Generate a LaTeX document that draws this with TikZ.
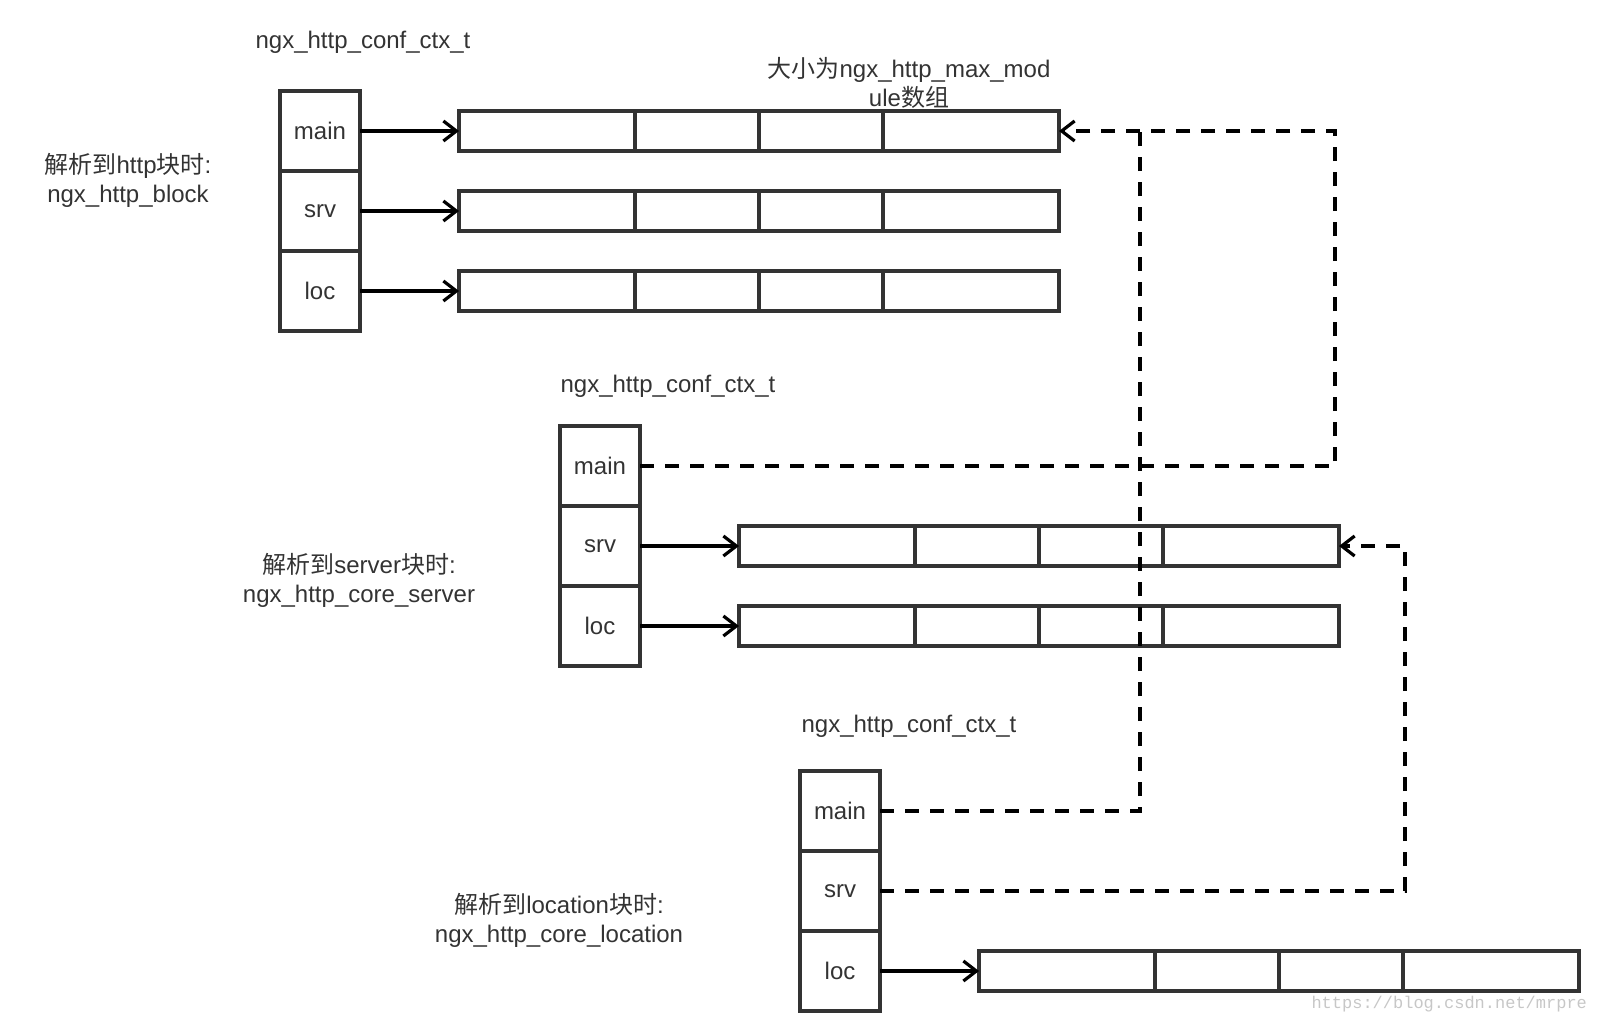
\documentclass[tikz,border=0pt]{standalone}
\usepackage{fontspec}
\setmainfont{Liberation Sans}
\newfontfamily\cjk{Noto Sans CJK SC}
\newfontfamily\wmfont{Liberation Mono}
\usetikzlibrary{arrows.meta,positioning}

\tikzset{
  field/.style={draw=black!80, line width=1.75pt, minimum width=40pt, minimum height=40pt,
    inner sep=0pt, outer sep=0pt, font=\fontsize{12}{14}\selectfont, text=black!80},
  cell/.style={draw=black!80, line width=1.75pt, minimum height=20pt, inner sep=0pt, outer sep=0pt},
  wide/.style={cell, minimum width=88pt},
  narrow/.style={cell, minimum width=62pt},
  ptr/.style={-{Straight Barb[length=6.5pt,width=10pt,line width=1.6pt]}, line width=1.6pt, draw=black},
  dline/.style={line width=1.6pt, draw=black, dash pattern=on 7pt off 5.5pt},
  dptr/.style={ptr, dash pattern=on 7pt off 5.5pt},
  lbl/.style={font=\fontsize{12}{14.5}\selectfont, text=black!80, align=center}
}

\begin{document}
\begin{tikzpicture}[x=0.5pt,y=-0.5pt]
\useasboundingbox (0,0) rectangle (1600,1022);

%% http block: ngx_http_conf_ctx_t
\node[lbl] (htitle) at (363,42) {ngx\_http\_conf\_ctx\_t};
\node[field] (hmain) at (320,131) {main};
\node[field, below=0pt of hmain] (hsrv) {srv};
\node[field, below=0pt of hsrv] (hloc) {loc};
\node[lbl] (hlbl) at (128,180) {{\cjk 解析到}http{\cjk 块时}:\\ngx\_http\_block};
\node[lbl] (size) at (909,83) {{\cjk 大小为}ngx\_http\_max\_mod\\ule{\cjk 数组}};

%% http block arrays
\node[wide, anchor=west] (ha1) at (459,131) {}; \node[narrow, right=0pt of ha1] (ha2) {}; \node[narrow, right=0pt of ha2] (ha3) {}; \node[wide, right=0pt of ha3] (ha4) {};
\node[wide, anchor=west] (hb1) at (459,211) {}; \node[narrow, right=0pt of hb1] (hb2) {}; \node[narrow, right=0pt of hb2] (hb3) {}; \node[wide, right=0pt of hb3] (hb4) {};
\node[wide, anchor=west] (hc1) at (459,291) {}; \node[narrow, right=0pt of hc1] (hc2) {}; \node[narrow, right=0pt of hc2] (hc3) {}; \node[wide, right=0pt of hc3] (hc4) {};

%% server block: ngx_http_conf_ctx_t
\node[lbl] (stitle) at (668,386) {ngx\_http\_conf\_ctx\_t};
\node[field] (smain) at (600,466) {main};
\node[field, below=0pt of smain] (ssrv) {srv};
\node[field, below=0pt of ssrv] (sloc) {loc};
\node[lbl] (slbl) at (359,580) {{\cjk 解析到}server{\cjk 块时}:\\ngx\_http\_core\_server};

%% server block arrays
\node[wide, anchor=west] (sb1) at (739,546) {}; \node[narrow, right=0pt of sb1] (sb2) {}; \node[narrow, right=0pt of sb2] (sb3) {}; \node[wide, right=0pt of sb3] (sb4) {};
\node[wide, anchor=west] (sc1) at (739,626) {}; \node[narrow, right=0pt of sc1] (sc2) {}; \node[narrow, right=0pt of sc2] (sc3) {}; \node[wide, right=0pt of sc3] (sc4) {};

%% location block: ngx_http_conf_ctx_t
\node[lbl] (ltitle) at (909,726) {ngx\_http\_conf\_ctx\_t};
\node[field] (lmain) at (840,811) {main};
\node[field, below=0pt of lmain] (lsrv) {srv};
\node[field, below=0pt of lsrv] (lloc) {loc};
\node[lbl] (llbl) at (559,920) {{\cjk 解析到}location{\cjk 块时}:\\ngx\_http\_core\_location};

%% location block array
\node[wide, anchor=west] (lc1) at (979,971) {}; \node[narrow, right=0pt of lc1] (lc2) {}; \node[narrow, right=0pt of lc2] (lc3) {}; \node[wide, right=0pt of lc3] (lc4) {};

%% turning points
\coordinate (t1) at (1335,131);
\coordinate (t2) at (1140,131);
\coordinate (t3) at (1405,546);

%% pointers
\draw[ptr] (hmain) -- (ha1);
\draw[ptr] (hsrv) -- (hb1);
\draw[ptr] (hloc) -- (hc1);
\draw[ptr] (ssrv) -- (sb1);
\draw[ptr] (sloc) -- (sc1);
\draw[ptr] (lloc) -- (lc1);

%% shared pointers
\draw[dptr] (smain) -| (t1) -- (ha4);
\draw[dline] (lmain) -| (t2);
\draw[dptr] (lsrv) -| (t3) -- (sb4);

%% watermark
\node[font=\wmfont\fontsize{8.5}{10}\selectfont, text=black!22, anchor=east] (wm) at (1594,1004) {https://blog.csdn.net/mrpre};
\end{tikzpicture}
\end{document}
